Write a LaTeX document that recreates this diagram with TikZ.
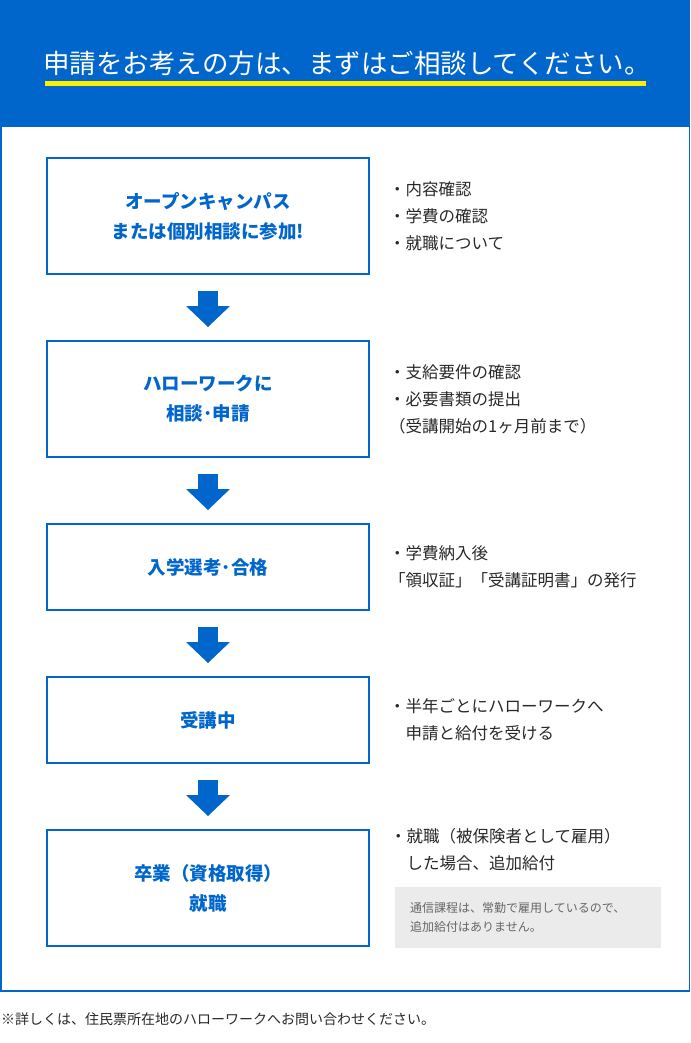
\documentclass[tikz,border=0pt]{standalone}
\usepackage{fontspec}
\setmainfont{Noto Sans CJK JP}
\definecolor{jpblue}{RGB}{0,102,204}
\definecolor{jpyellow}{RGB}{255,238,0}
\definecolor{jptext}{RGB}{40,40,40}
\definecolor{jpgray}{RGB}{235,235,235}
\definecolor{jpnote}{RGB}{102,102,102}
\usetikzlibrary{arrows.meta,positioning}

\begin{document}
\begin{tikzpicture}[x=1pt,y=-1pt,
  stepbox/.style={draw=jpblue,line width=2pt,minimum width=322pt,minimum height=116pt,font=\fontsize{18.5}{30}\selectfont\bfseries,text=jpblue,align=center},
  lowbox/.style={minimum height=86pt},
  memo/.style={font=\fontsize{16.5}{27}\selectfont,text=jptext,align=left,inner sep=0pt},
  flow/.style={jpblue,line width=20pt,-{Triangle[width=44pt,length=21pt,line width=0pt]},shorten <=16pt,shorten >=13pt}]
  \useasboundingbox (0,0) rectangle (690,1043);
  % header
  \fill[jpblue] (0,0) rectangle (690,127);
  \node[text=white,font=\fontsize{26.5}{30}\selectfont] (title) at (347,63) {申請をお考えの方は、まずはご相談してください。};
  \fill[jpyellow] (45,81) rectangle (646,86);
  \draw[jpblue,line width=1.5pt] (0.75,127) -- (0.75,991) -- (689.25,991) -- (689.25,127);
  % steps
  \node[stepbox] (open) at (208,216) {オープンキャンパス\\または個別相談に参加!};
  \node[stepbox] (hello) at (208,399) {ハローワークに\\相談･申請};
  \node[stepbox,lowbox] (exam) at (208,567) {入学選考･合格};
  \node[stepbox,lowbox] (study) at (208,720) {受講中};
  \node[stepbox] (grad) at (208,888) {卒業（資格取得）\\就職};
  \draw[flow] (open) -- (hello);
  \draw[flow] (hello) -- (exam);
  \draw[flow] (exam) -- (study);
  \draw[flow] (study) -- (grad);
  % notes
  \node[memo,right=19pt of open] (openmemo) {・内容確認\\・学費の確認\\・就職について};
  \node[memo,right=19pt of hello] (hellomemo) {・支給要件の確認\\・必要書類の提出\\（受講開始の1ヶ月前まで）};
  \node[memo,right=19pt of exam] (exammemo) {・学費納入後\\「領収証」「受講証明書」の発行};
  \node[memo,right=19pt of study] (studymemo) {・半年ごとにハローワークへ\\\hspace{1em}申請と給付を受ける};
  \node[memo,anchor=west] (gradmemo) at (390,849.5) {・就職（被保険者として雇用）\\\hspace{1em}した場合、追加給付};
  \node[anchor=north west,fill=jpgray,minimum width=266pt,minimum height=61pt,text width=236pt,inner xsep=15pt,align=left,text=jpnote,font=\fontsize{12}{19}\selectfont] (mail) at (395,887) {通信課程は、常勤で雇用しているので、\\追加給付はありません。};
  % footer
  \node[anchor=west,inner sep=0pt,text=jptext,font=\fontsize{14}{16}\selectfont] (foot) at (1,1019) {※詳しくは、住民票所在地のハローワークへお問い合わせください。};
\end{tikzpicture}
\end{document}
